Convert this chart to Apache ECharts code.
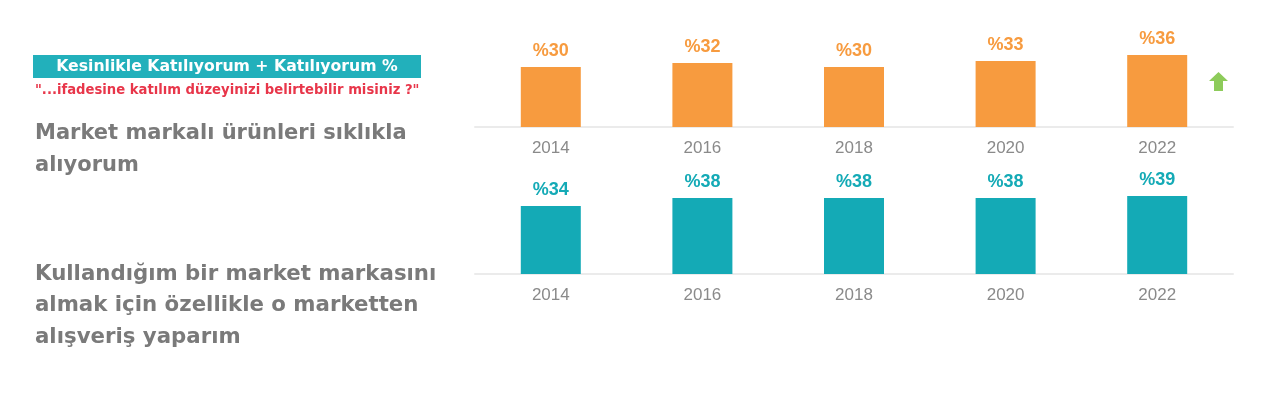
<!DOCTYPE html>
<html>
<head>
<meta charset="utf-8">
<style>html,body{margin:0;padding:0;background:#fff;}#c{width:1280px;height:394px;}</style>
<script src="https://cdn.jsdelivr.net/npm/echarts@6/dist/echarts.min.js"></script>
</head>
<body>
<div id="c"></div>
<script>
const years = ['2014', '2016', '2018', '2020', '2022'];
const marketBrandFrequent = [30, 32, 30, 33, 36];
const shopForMarketBrand = [34, 38, 38, 38, 39];
const headerText = 'Kesinlikle Katılıyorum + Katılıyorum %';
const questionText = '"...ifadesine katılım düzeyinizi belirtebilir misiniz ?"';
const statement1 = ['Market markalı ürünleri sıklıkla', 'alıyorum'];
const statement2 = ['Kullandığım bir market markasını', 'almak için özellikle o marketten', 'alışveriş yaparım'];

const ORANGE = '#F79B3F';
const TEAL = '#14AAB6';
const chart = echarts.init(document.getElementById('c'), null, {renderer: 'canvas'});

function xAx(gi) {
  return {
    type: 'category', gridIndex: gi, data: years,
    axisLine: {show: true, lineStyle: {color: '#ebebeb', width: 2}},
    axisTick: {show: false},
    axisLabel: {color: '#8a8a8a', fontSize: 17, fontFamily: 'Liberation Sans, Arial', margin: 13}
  };
}
function yAx(gi) {
  return {type: 'value', gridIndex: gi, min: 0, max: 50, show: false, splitLine: {show: false}};
}
function ser(gi, data, color) {
  return {
    type: 'bar', xAxisIndex: gi, yAxisIndex: gi, data: data, barWidth: 60,
    itemStyle: {color: color},
    label: {show: true, position: 'top', distance: 7, formatter: p => '%' + p.value,
      color: color, fontSize: 18, fontWeight: 'bold', fontFamily: 'Liberation Sans, Arial'}
  };
}

const graphics = [
  {type: 'rect', shape: {x: 33, y: 55, width: 388, height: 23}, style: {fill: '#22B0BB'}},
  {type: 'text', x: 227, y: 67, style: {text: headerText, fill: '#fff', font: 'bold 15.7px "DejaVu Sans", sans-serif', textAlign: 'center', textVerticalAlign: 'middle'}},
  {type: 'text', x: 35, y: 91, style: {text: questionText, fill: '#E8364A', font: 'bold 13.2px "DejaVu Sans", sans-serif', textAlign: 'left', textVerticalAlign: 'middle'}},
  // green up arrow
  {type: 'polygon', shape: {points: [[1218.5, 72], [1228, 81], [1223, 81], [1223, 91], [1214, 91], [1214, 81], [1209, 81]]}, style: {fill: '#8DCB5A'}}
];
statement1.forEach((t, i) => graphics.push({type: 'text', x: 35, y: 134 + i * 32, style: {text: t, fill: '#7a7a7a', font: 'bold 21px "DejaVu Sans", sans-serif', textVerticalAlign: 'middle'}}));
statement2.forEach((t, i) => graphics.push({type: 'text', x: 35, y: 274 + i * 31.5, style: {text: t, fill: '#7a7a7a', font: 'bold 21.3px "DejaVu Sans", sans-serif', textVerticalAlign: 'middle'}}));

chart.setOption({
  animation: false,
  backgroundColor: '#ffffff',
  grid: [
    {left: 475, width: 758, top: 27, height: 100},
    {left: 475, width: 758, top: 174, height: 100}
  ],
  xAxis: [xAx(0), xAx(1)],
  yAxis: [yAx(0), yAx(1)],
  series: [ser(0, marketBrandFrequent, ORANGE), ser(1, shopForMarketBrand, TEAL)],
  graphic: graphics
});
</script>
</body>
</html>
